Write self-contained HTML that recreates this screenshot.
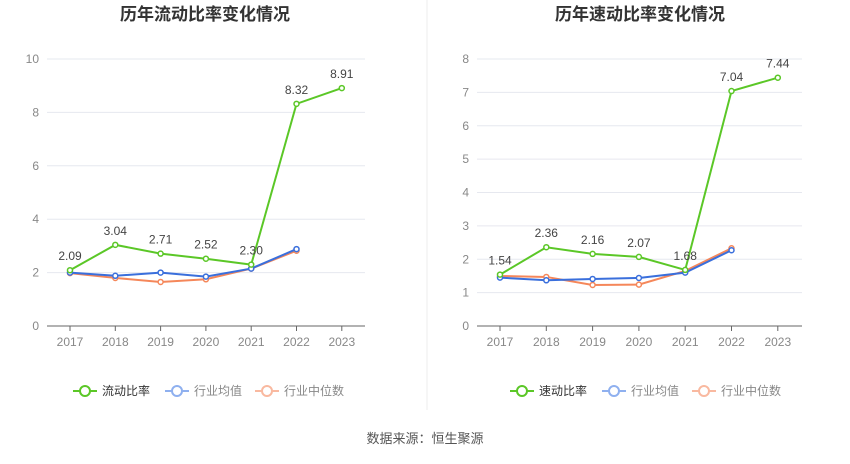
<!DOCTYPE html>
<html><head><meta charset="utf-8"><style>
body{margin:0;background:#fff;font-family:"Liberation Sans","Noto Sans CJK SC",sans-serif;}
svg text{font-family:"Liberation Sans","Noto Sans CJK SC",sans-serif;}
</style></head><body>
<svg id="root" width="850" height="459" xmlns="http://www.w3.org/2000/svg">
<line x1="427" y1="0" x2="427" y2="410" stroke="#eee"/>
<text x="425" y="443" text-anchor="middle" font-size="13" fill="#555">数据来源：恒生聚源</text>
</svg>
<script>
const years=["2017","2018","2019","2020","2021","2022","2023"];
const currentRatio=[2.09,3.04,2.71,2.52,2.30,8.32,8.91];
const currentAvg=[2.0,1.88,2.0,1.85,2.15,2.88];
const currentMedian=[1.98,1.8,1.65,1.75,2.15,2.82];
const quickRatio=[1.54,2.36,2.16,2.07,1.68,7.04,7.44];
const quickAvg=[1.45,1.37,1.41,1.44,1.60,2.27];
const quickMedian=[1.50,1.47,1.23,1.24,1.65,2.33];
const leftTicks=[0,2,4,6,8,10];
const rightTicks=[0,1,2,3,4,5,6,7,8];
const NS="http://www.w3.org/2000/svg";
const root=document.getElementById('root');
function mk(tag,attrs,parent){const e=document.createElementNS(NS,tag);for(const k in attrs)e.setAttribute(k,attrs[k]);(parent||root).appendChild(e);return e;}
function chart(p){
 const g=mk('g',{});
 
 
 const ymax=p.ticks[p.ticks.length-1];
 const y=v=>p.y0-(v/ymax)*(p.y0-p.y1);
 const x=i=>p.x0+i*p.step;
 const t=mk('text',{x:p.cx,y:20,'text-anchor':'middle','font-size':17,'font-weight':'bold',fill:'#333'},g);t.textContent=p.title;
 
 
 p.ticks.forEach(v=>{
  if(v>0){const l=mk('line',{x1:p.ax0,x2:p.ax1,y1:y(v),y2:y(v),stroke:'#e6e8ef'},g);
  
  }
  const tt=mk('text',{x:p.ax0-8,y:y(v)+4,'text-anchor':'end','font-size':12,fill:'#888'},g);tt.textContent=v;
  
  
 });
 const ax=mk('line',{x1:p.ax0,x2:p.ax1,y1:p.y0,y2:p.y0,stroke:'#666'},g);
 
 
 years.forEach((yr,i)=>{
  mk('line',{x1:x(i),x2:x(i),y1:p.y0,y2:p.y0+5,stroke:'#666'},g);
  const tt=mk('text',{x:x(i),y:p.y0+20,'text-anchor':'middle','font-size':12,fill:'#888'},g);tt.textContent=yr;
  
  
 });
 const series=[[p.med,'#f5875a','median-line'],[p.avg,'#3a6fdc','average-line'],[p.main,'#5bc727','ratio-line']];
 series.forEach(([d,c,n])=>{
  const pl=mk('polyline',{points:d.map((v,i)=>x(i)+','+y(v)).join(' '),fill:'none',stroke:c,'stroke-width':2},g);
  
  
  d.forEach((v,i)=>{const ci=mk('circle',{cx:x(i),cy:y(v),r:2.5,fill:'#fff',stroke:c,'stroke-width':1.5},g);
   
   });
 });
 p.main.forEach((v,i)=>{const tt=mk('text',{x:x(i),y:y(v)-10,'text-anchor':'middle','font-size':12,fill:'#444'},g);tt.textContent=v.toFixed(2);
  
  });
 const leg=[[p.lg,'#5bc727'],['行业均值','#8fb0ef'],['行业中位数','#f9b9a0']];
 let lx=p.legX;
 leg.forEach(([n,c],k)=>{
  const lg=mk('g',{},g);
  
  
  mk('line',{x1:lx,x2:lx+24,y1:391,y2:391,stroke:c,'stroke-width':2},lg);
  mk('circle',{cx:lx+12,cy:391,r:5,fill:'#fff',stroke:c,'stroke-width':2},lg);
  const tt=mk('text',{x:lx+29,y:395,'font-size':12,fill:k==0?'#333':'#888'},lg);tt.textContent=n;
  lx+= k==0?92:90;
 });
}
chart({name:'current-ratio-chart',title:'历年流动比率变化情况',cx:205,y0:326,y1:59,x0:70,step:45.3,ax0:47,ax1:365,ticks:leftTicks,main:currentRatio,avg:currentAvg,med:currentMedian,lg:'流动比率',legX:73});
chart({name:'quick-ratio-chart',title:'历年速动比率变化情况',cx:640,y0:326,y1:59,x0:500,step:46.3,ax0:477,ax1:802,ticks:rightTicks,main:quickRatio,avg:quickAvg,med:quickMedian,lg:'速动比率',legX:510});
</script>
</body></html>
